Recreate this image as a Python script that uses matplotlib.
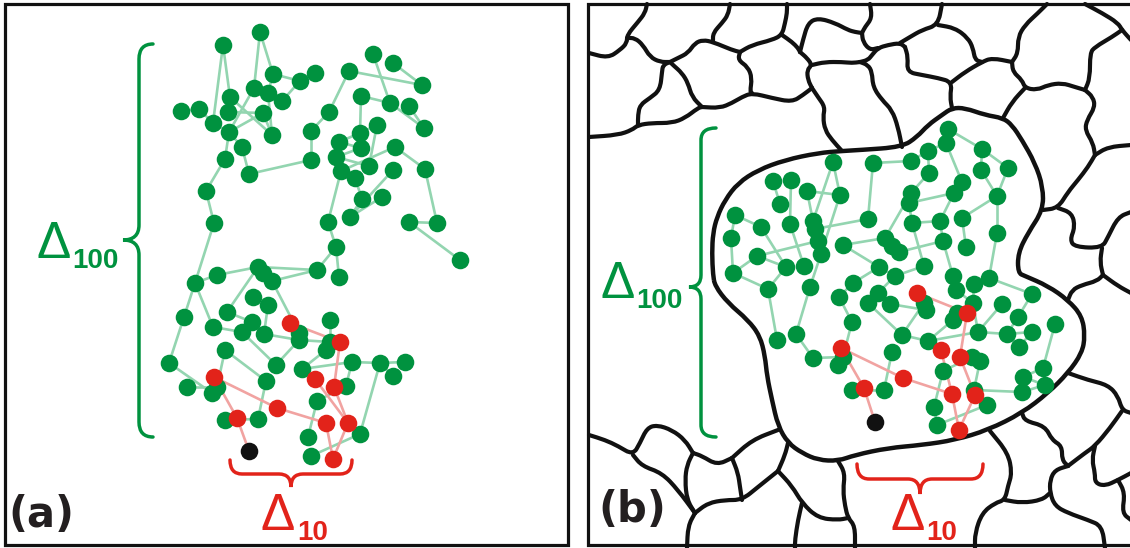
import numpy as np
import matplotlib.pyplot as plt
from matplotlib.path import Path
from matplotlib.patches import PathPatch, Rectangle
from matplotlib.collections import LineCollection

plt.rcParams['font.family'] = ['Liberation Sans', 'DejaVu Sans']

GREEN = '#00923f'
LIGHT_GREEN = '#93d5b0'
RED = '#e2231a'
PINK = '#f1a3a1'

# ---- panel (a): free cluster -------------------------------------------
green_a = np.array([
    (260, 32), (223, 45), (273, 74), (300, 81), (315, 73), (254, 88), (268, 93),
    (230, 97), (282, 101), (181, 111), (199, 109), (228, 112), (263, 113),
    (213, 123), (229, 132), (272, 135), (242, 147), (225, 159), (249, 174),
    (206, 191), (214, 223), (349, 71), (373, 54), (393, 63), (422, 85),
    (361, 96), (390, 103), (409, 106), (424, 128), (329, 112), (311, 131),
    (311, 160), (377, 125), (360, 133), (339, 142), (361, 148), (336, 157),
    (395, 147), (341, 171), (369, 166), (355, 178), (393, 170), (425, 169),
    (362, 199), (382, 197), (350, 217), (328, 222), (409, 222), (437, 223),
    (460, 260), (336, 247), (339, 277), (317, 270), (258, 267), (263, 273),
    (272, 281), (217, 275), (195, 283), (253, 297), (268, 305), (227, 312),
    (184, 317), (213, 327), (252, 322), (242, 332), (264, 334), (299, 333),
    (299, 340), (330, 320), (330, 342), (326, 350), (225, 350), (169, 363),
    (276, 365), (352, 362), (380, 363), (405, 362), (393, 376), (302, 369),
    (187, 387), (217, 387), (212, 393), (266, 381), (346, 386), (317, 401),
    (225, 420), (258, 419), (360, 434), (308, 437), (311, 456),
])
links_a = [
    (0, 5), (0, 2), (1, 7), (1, 13), (2, 3), (3, 4), (3, 8), (5, 14), (6, 8),
    (6, 15), (7, 11), (7, 15), (11, 12), (9, 10), (10, 13), (13, 14), (14, 12),
    (14, 16), (14, 17), (16, 18), (17, 19), (19, 20), (18, 31), (31, 30),
    (30, 29), (29, 21), (21, 24), (22, 26), (23, 24), (25, 26), (25, 33),
    (26, 28), (27, 28), (32, 39), (34, 33), (35, 36), (38, 37), (37, 42),
    (42, 48), (48, 47), (47, 49), (41, 45), (38, 46), (40, 43), (43, 45),
    (44, 45), (46, 50), (20, 57), (50, 51), (50, 52), (52, 53), (52, 55),
    (53, 56), (56, 57), (57, 61), (61, 72), (72, 81), (57, 62), (53, 60),
    (55, 66), (59, 65), (60, 63), (62, 64), (63, 65), (64, 73), (65, 67),
    (67, 73), (67, 69), (68, 69), (70, 78), (78, 74), (74, 75), (75, 76),
    (75, 77), (75, 87), (71, 80), (82, 86), (79, 80), (85, 86), (84, 88),
    (89, 87), (36, 39), (34, 35), (33, 32), (2, 6), (12, 15), (69, 70),
    (83, 74), (84, 83), (71, 82),
]
red_a = np.array([
    (237, 418), (214, 377), (277, 408), (326, 423), (333, 459), (348, 423),
    (315, 379), (334, 387), (340, 342), (290, 323),
])
red_links_a = [(0, 1), (1, 2), (2, 3), (3, 4), (4, 5), (5, 6), (7, 5), (7, 8), (8, 9)]
start_a = (249, 451)

# ---- panel (b): cluster trapped in one grain ---------------------------
green_b = np.array([
    (948, 129), (946, 143), (982, 149), (928, 151), (911, 161), (873, 163),
    (833, 162), (1008, 168), (981, 170), (929, 173), (962, 182), (954, 193),
    (773, 181), (791, 180), (807, 191), (840, 195), (911, 193), (909, 203),
    (997, 196), (780, 204), (735, 215), (761, 227), (790, 224), (813, 221),
    (815, 229), (868, 219), (912, 223), (962, 218), (940, 221), (731, 238),
    (818, 241), (843, 245), (885, 238), (892, 246), (899, 252), (821, 254),
    (757, 256), (997, 233), (943, 241), (966, 247), (924, 266), (786, 267),
    (804, 266), (879, 267), (895, 276), (733, 273), (853, 283), (953, 276),
    (989, 278), (974, 284), (768, 289), (810, 287), (878, 293), (839, 297),
    (956, 290), (868, 303), (890, 304), (924, 303), (1032, 294), (973, 303),
    (1002, 304), (777, 340), (796, 334), (852, 322), (926, 310), (957, 313),
    (953, 320), (1018, 317), (1055, 324), (902, 335), (928, 341), (978, 332),
    (1007, 334), (1032, 332), (1019, 347), (813, 358), (843, 357), (838, 365),
    (892, 352), (972, 357), (980, 361), (943, 371), (1043, 368), (1023, 377),
    (1045, 385), (1022, 392), (852, 390), (884, 390), (974, 390), (987, 405),
    (934, 407), (937, 425),
])
links_b = [
    (0, 1), (1, 10), (2, 7), (7, 18), (18, 37), (37, 48), (8, 18), (3, 4),
    (3, 9), (9, 16), (17, 11), (10, 11), (11, 28), (27, 18), (27, 39),
    (17, 26), (26, 28), (34, 38), (38, 47), (47, 54), (54, 59), (59, 49),
    (49, 48), (48, 58), (26, 40), (6, 23), (6, 15), (5, 25), (5, 4), (12, 19),
    (13, 22), (14, 23), (15, 35), (20, 21), (20, 29), (29, 45), (21, 41),
    (23, 24), (24, 30), (30, 35), (25, 24), (36, 30), (36, 41), (45, 36),
    (31, 32), (32, 33), (33, 34), (35, 51), (46, 43), (53, 46), (52, 55),
    (50, 61), (45, 50), (51, 62), (62, 75), (41, 50), (63, 76), (55, 69),
    (69, 57), (69, 70), (70, 71), (71, 72), (72, 73), (71, 59), (68, 82),
    (82, 83), (83, 84), (84, 85), (85, 83), (85, 88), (88, 89), (78, 87),
    (90, 91), (90, 81), (91, 89), (80, 88), (64, 56), (75, 76), (76, 77),
    (86, 87), (2, 8), (16, 32), (40, 44), (44, 52), (57, 64), (65, 66),
    (66, 70), (67, 72), (73, 74), (58, 67), (60, 71), (79, 80), (81, 79),
    (22, 42), (14, 15), (31, 43), (43, 44), (53, 63), (56, 52), (28, 38),
    (1, 3), (0, 2),
]
red_b = np.array([
    (864, 388), (841, 348), (903, 378), (952, 394), (959, 430), (975, 395),
    (941, 350), (960, 357), (967, 313), (917, 293),
])
red_links_b = [(0, 1), (1, 2), (2, 3), (6, 3), (3, 4), (4, 5), (5, 7), (7, 8), (8, 9)]
start_b = (875, 422)

# outline of the grain that holds the cluster
home_grain = np.array([
    (713, 275), (712, 253), (713, 233), (717, 217), (725, 200), (738, 183),
    (758, 170), (785, 160), (818, 153), (842, 151), (860, 150), (902, 147),
    (917, 137), (928, 125), (942, 115), (952, 108), (965, 108), (985, 115),
    (1003, 118), (1012, 125), (1022, 140), (1035, 163), (1043, 187),
    (1043, 210), (1028, 233), (1018, 253), (1018, 273), (1025, 276),
    (1048, 286), (1068, 300), (1082, 316), (1085, 336), (1082, 353),
    (1068, 373), (1048, 393), (1022, 413), (988, 430), (955, 440), (922, 445),
    (888, 448), (855, 455), (838, 461), (818, 460), (802, 453), (788, 443),
    (778, 426), (772, 400), (767, 376), (765, 356), (760, 336), (748, 320),
    (728, 303), (715, 286), (713, 275),
])

# surrounding grain boundaries
grain_walls = [
    [(589, 53), (608, 58), (620, 50), (627, 43), (627, 35), (638, 22), (645, 13), (647, 4)],
    [(627, 38), (635, 38), (643, 45), (650, 57), (660, 62), (670, 62)],
    [(670, 62), (663, 65), (662, 72), (660, 90), (650, 98), (640, 105), (638, 115), (638, 125)],
    [(589, 137), (618, 135), (632, 130), (638, 125), (652, 123), (672, 123), (685, 118), (698, 108), (702, 107)],
    [(670, 62), (673, 65), (682, 73), (688, 83), (692, 97), (702, 107)],
    [(670, 62), (678, 58), (688, 53), (695, 43), (703, 40), (713, 42), (732, 50), (740, 52)],
    [(713, 42), (713, 33), (722, 23), (728, 15), (730, 4)],
    [(702, 107), (720, 108), (732, 103), (742, 97), (752, 93), (772, 98), (792, 102), (803, 95), (812, 88)],
    [(740, 52), (738, 60), (748, 67), (752, 78), (750, 92), (752, 93)],
    [(740, 52), (752, 45), (772, 40), (782, 35), (785, 23), (787, 13), (787, 4)],
    [(782, 35), (792, 42), (798, 48), (800, 52)],
    [(800, 52), (803, 40), (808, 23), (818, 18), (835, 23), (848, 30), (855, 32), (862, 33)],
    [(870, 4), (872, 18), (865, 27), (862, 33)],
    [(862, 33), (863, 42), (870, 50), (878, 48)],
    [(800, 52), (807, 58), (812, 65), (807, 70), (808, 80), (812, 88)],
    [(812, 65), (825, 62), (842, 62), (852, 63), (860, 62)],
    [(860, 62), (868, 60), (872, 55), (878, 48), (888, 45), (900, 43), (905, 47)],
    [(812, 88), (818, 97), (825, 107), (823, 117), (825, 130), (832, 140), (842, 151)],
    [(860, 62), (868, 65), (872, 72), (873, 87), (882, 100), (892, 110), (898, 127), (902, 147)],
    [(905, 47), (908, 57), (907, 72), (922, 75), (938, 78), (952, 82), (950, 97), (952, 108)],
    [(900, 43), (910, 37), (922, 30), (938, 25), (942, 4)],
    [(938, 25), (955, 28), (968, 38), (973, 48), (975, 60), (982, 62)],
    [(952, 82), (965, 72), (982, 62), (992, 58), (1012, 62)],
    [(1012, 62), (1018, 53), (1018, 37), (1025, 25), (1038, 13), (1047, 4)],
    [(1012, 62), (1013, 72), (1022, 80), (1025, 88), (1037, 90), (1048, 85), (1062, 83), (1075, 87), (1085, 90)],
    [(1025, 88), (1012, 102), (1003, 118)],
    [(1085, 4), (1102, 13), (1118, 23), (1122, 30), (1131, 40)],
    [(1122, 30), (1112, 37), (1095, 47), (1090, 53), (1090, 78), (1085, 90)],
    [(1085, 90), (1093, 97), (1095, 107), (1087, 120), (1085, 130), (1093, 143), (1095, 155)],
    [(1095, 155), (1108, 147), (1131, 145)],
    [(1095, 155), (1088, 167), (1078, 180), (1068, 192), (1058, 208), (1043, 210)],
    [(1058, 208), (1072, 213), (1075, 227), (1070, 240), (1075, 247), (1102, 248), (1108, 237), (1118, 217), (1131, 212)],
    [(1102, 248), (1100, 262), (1103, 275)],
    [(1068, 300), (1072, 290), (1082, 285), (1097, 281), (1103, 275)],
    [(1103, 275), (1118, 286), (1131, 293)],
    [(1068, 373), (1088, 380), (1108, 385), (1118, 396), (1122, 410), (1131, 413)],
    [(1022, 413), (1025, 421), (1045, 426), (1052, 440), (1062, 446), (1062, 460), (1068, 466)],
    [(1068, 466), (1085, 453), (1095, 446), (1110, 428), (1122, 411)],
    [(1095, 446), (1092, 460), (1095, 473), (1095, 483), (1105, 486), (1118, 480), (1131, 473)],
    [(1068, 466), (1055, 470), (1050, 480), (1050, 493), (1055, 506), (1068, 513), (1088, 520), (1102, 526), (1105, 548)],
    [(990, 431), (1008, 453), (1012, 473), (1008, 486), (1005, 500), (995, 503), (982, 513), (975, 533), (975, 548)],
    [(1005, 500), (1022, 503), (1042, 500), (1050, 493)],
    [(1118, 480), (1125, 493), (1122, 513), (1131, 520)],
    [(589, 435), (605, 440), (618, 446), (633, 455), (640, 443), (647, 428), (657, 425), (672, 430), (685, 440), (693, 453)],
    [(633, 455), (642, 466), (662, 473), (678, 490), (695, 513)],
    [(693, 453), (702, 456), (717, 465), (732, 458)],
    [(693, 453), (687, 465), (685, 480), (687, 500), (695, 513)],
    [(732, 458), (752, 440), (778, 430)],
    [(732, 458), (738, 473), (740, 487), (742, 500)],
    [(695, 513), (708, 503), (725, 500), (742, 500), (758, 487), (778, 471)],
    [(695, 513), (688, 526), (687, 548)],
    [(778, 471), (785, 455), (788, 443)],
    [(778, 471), (792, 486), (802, 503), (818, 518), (838, 520), (848, 518)],
    [(802, 503), (798, 520), (795, 540), (795, 548)],
    [(838, 461), (845, 473), (843, 490), (845, 506), (848, 518), (855, 526), (855, 548)],
]


def rounded_path(pts, closed=False):
    # corners become quadratic curves through the segment midpoints
    pts = np.asarray(pts, dtype=float)
    if closed:
        pts = pts[:-1]
        mids = (pts + np.roll(pts, -1, axis=0)) / 2
        verts = [mids[-1]]
        codes = [Path.MOVETO]
        for k in range(len(pts)):
            verts += [pts[k], mids[k]]
            codes += [Path.CURVE3, Path.CURVE3]
        return Path(verts, codes)
    mids = (pts[:-1] + pts[1:]) / 2
    verts = [pts[0], mids[0]]
    codes = [Path.MOVETO, Path.LINETO]
    for k in range(1, len(pts) - 1):
        verts += [pts[k], mids[k]]
        codes += [Path.CURVE3, Path.CURVE3]
    verts.append(pts[-1])
    codes.append(Path.LINETO)
    return Path(verts, codes)


def draw_links(ax, pts, links, color):
    segs = [[pts[i], pts[j]] for i, j in links]
    ax.add_collection(LineCollection(segs, colors=color, linewidths=1.9, zorder=2))


def draw_dots(ax, pts, color):
    ax.scatter(pts[:, 0], pts[:, 1], s=160, color=color, linewidths=0, zorder=3)


def vbrace(ax, x_tip, x_bar, x_cusp, y_top, y_bot, y_mid, r, color):
    verts = [(x_tip, y_top), (x_bar, y_top), (x_bar, y_top + r),
             (x_bar, y_mid - r), (x_bar, y_mid), (x_cusp, y_mid),
             (x_bar, y_mid), (x_bar, y_mid + r),
             (x_bar, y_bot - r), (x_bar, y_bot), (x_tip, y_bot)]
    codes = [Path.MOVETO, Path.CURVE3, Path.CURVE3, Path.LINETO, Path.CURVE3,
             Path.CURVE3, Path.CURVE3, Path.CURVE3, Path.LINETO, Path.CURVE3,
             Path.CURVE3]
    ax.add_patch(PathPatch(Path(verts, codes), fc='none', ec=color, lw=2.5,
                           capstyle='round', zorder=4))


def hbrace(ax, y_tip, y_bar, y_cusp, x_left, x_right, x_mid, r, color):
    verts = [(x_left, y_tip), (x_left, y_bar), (x_left + r, y_bar),
             (x_mid - r, y_bar), (x_mid, y_bar), (x_mid, y_cusp),
             (x_mid, y_bar), (x_mid + r, y_bar),
             (x_right - r, y_bar), (x_right, y_bar), (x_right, y_tip)]
    codes = [Path.MOVETO, Path.CURVE3, Path.CURVE3, Path.LINETO, Path.CURVE3,
             Path.CURVE3, Path.CURVE3, Path.CURVE3, Path.LINETO, Path.CURVE3,
             Path.CURVE3]
    ax.add_patch(PathPatch(Path(verts, codes), fc='none', ec=color, lw=2.5,
                           capstyle='round', zorder=4))


def delta_label(ax, x, y, sub, color):
    ax.text(x, y, '\u0394', fontsize=37, color=color, ha='left', va='baseline')
    ax.text(x + 36, y + 10, sub, fontsize=20, fontweight='bold', color=color,
            ha='left', va='baseline')


fig = plt.figure(figsize=(11.3, 5.48), dpi=100)
ax = fig.add_axes([0, 0, 1, 1])
ax.set_xlim(0, 1130)
ax.set_ylim(548, 0)
ax.axis('off')

# frames
ax.add_patch(Rectangle((5, 4), 563, 541, fc='none', ec='#111111', lw=2.3, zorder=5))
ax.plot([1132, 588, 588, 1132], [4, 4, 545, 545], color='#111111', lw=2.3,
        solid_joinstyle='miter', zorder=5)

# panel (a)
draw_links(ax, green_a, links_a, LIGHT_GREEN)
draw_links(ax, np.vstack([red_a, [start_a]]),
           red_links_a + [(len(red_a), 0)], PINK)
draw_dots(ax, green_a, GREEN)
draw_dots(ax, red_a, RED)
ax.scatter(*start_a, s=160, color='#111111', linewidths=0, zorder=3)

vbrace(ax, 153, 139, 123, 44, 437, 240, 15, GREEN)
hbrace(ax, 460, 474, 487, 230, 352, 291, 12, RED)
delta_label(ax, 36, 258, '100', GREEN)
delta_label(ax, 261, 530, '10', RED)
ax.text(8, 515, '(a)', family='DejaVu Sans', fontsize=30, fontweight='bold',
        color='#231f20', ha='left', va='center')

# panel (b)
for wall in grain_walls:
    ax.add_patch(PathPatch(rounded_path(wall), fc='none', ec='#111111', lw=3.0,
                           capstyle='round', joinstyle='round', zorder=1))
ax.add_patch(PathPatch(rounded_path(home_grain, closed=True), fc='none',
                       ec='#111111', lw=3.2, joinstyle='round', zorder=1))

draw_links(ax, green_b, links_b, LIGHT_GREEN)
draw_links(ax, np.vstack([red_b, [start_b]]),
           red_links_b + [(len(red_b), 0)], PINK)
draw_dots(ax, green_b, GREEN)
draw_dots(ax, red_b, RED)
ax.scatter(*start_b, s=160, color='#111111', linewidths=0, zorder=3)

vbrace(ax, 716, 701, 689, 128, 437, 287, 12, GREEN)
hbrace(ax, 464, 479, 494, 857, 983, 920, 12, RED)
delta_label(ax, 600, 298, '100', GREEN)
delta_label(ax, 890, 530, '10', RED)
ax.text(598, 510, '(b)', family='DejaVu Sans', fontsize=30, fontweight='bold',
        color='#231f20', ha='left', va='center')

fig.savefig('out.png', dpi=100)
